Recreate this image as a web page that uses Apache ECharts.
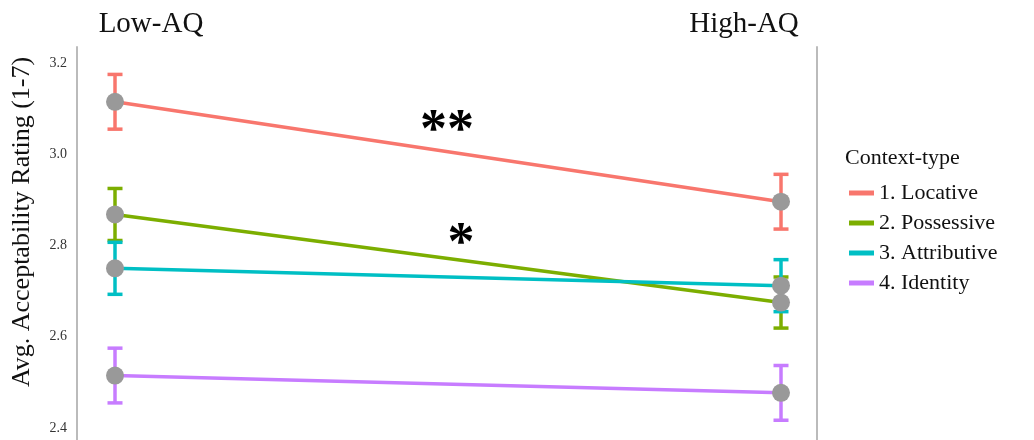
<!DOCTYPE html>
<html><head><meta charset="utf-8">
<script src="https://cdn.jsdelivr.net/npm/echarts@6/dist/echarts.min.js"></script>
<style>html,body{margin:0;padding:0;background:#fff}#c{width:1034px;height:440px}</style>
</head><body><div id="c"></div>
<script>
const groups = ['Low-AQ', 'High-AQ'];
const contextTypes = ['1. Locative', '2. Possessive', '3. Attributive', '4. Identity'];
const colors = ['#F8766D', '#7CAE00', '#00BFC4', '#C77CFF'];
const meanLocative = [3.115, 2.896];
const meanPossessive = [2.868, 2.675];
const meanAttributive = [2.750, 2.712];
const meanIdentity = [2.515, 2.477];
const seLocative = [0.060, 0.060];
const sePossessive = [0.057, 0.056];
const seAttributive = [0.057, 0.057];
const seIdentity = [0.060, 0.060];
const yTicks = [2.4, 2.6, 2.8, 3.0, 3.2];

const means = [meanLocative, meanPossessive, meanAttributive, meanIdentity];
const ses = [seLocative, sePossessive, seAttributive, seIdentity];
const FONT = '"Liberation Serif", "DejaVu Serif", serif';

const series = [];
// error bars
means.forEach((m, i) => {
  series.push({
    type: 'custom', name: 'err' + i, z: 2,
    data: m.map((v, j) => [j + 1, v - ses[i][j], v + ses[i][j]]),
    renderItem: function (params, api) {
      const x = api.value(0);
      const lo = api.coord([x, api.value(1)]);
      const hi = api.coord([x, api.value(2)]);
      const hw = 7.5;
      const st = { stroke: colors[i], lineWidth: 3.5 };
      return { type: 'group', children: [
        { type: 'line', shape: { x1: lo[0], y1: lo[1], x2: hi[0], y2: hi[1] }, style: st },
        { type: 'line', shape: { x1: lo[0] - hw, y1: lo[1], x2: lo[0] + hw, y2: lo[1] }, style: st },
        { type: 'line', shape: { x1: hi[0] - hw, y1: hi[1], x2: hi[0] + hw, y2: hi[1] }, style: st }
      ]};
    }
  });
});
// lines
means.forEach((m, i) => {
  series.push({
    type: 'line', name: contextTypes[i], z: 3,
    data: m.map((v, j) => [j + 1, v]),
    symbol: 'none', color: colors[i],
    lineStyle: { width: 3.5, color: colors[i] },
    emphasis: { disabled: true }, animation: false
  });
});
// points
means.forEach((m, i) => {
  series.push({
    type: 'scatter', name: 'pt' + i, z: 4,
    data: m.map((v, j) => [j + 1, v]),
    symbol: 'circle', symbolSize: 18,
    itemStyle: { color: '#999999', opacity: 1 }
  });
});

const chart = echarts.init(document.getElementById('c'));
chart.setOption({
  animation: false,
  backgroundColor: '#ffffff',
  grid: { left: 77, right: 217, top: 47, bottom: 0 },
  xAxis: { type: 'value', min: 0.94294, max: 2.05405, show: false },
  yAxis: [{
    type: 'value', min: 2.3737, max: 3.2351,
    axisLine: { show: true, lineStyle: { color: '#bbbbbb', width: 2 } },
    axisTick: { show: false },
    splitLine: { show: false },
    axisLabel: {
      customValues: yTicks, margin: 10,
      formatter: v => v.toFixed(1),
      fontFamily: FONT, fontSize: 14, color: '#333'
    }
  }, {
    type: 'value', min: 2.3737, max: 3.2351, position: 'right',
    axisLine: { show: true, lineStyle: { color: '#bbbbbb', width: 2 } },
    axisTick: { show: false }, splitLine: { show: false }, axisLabel: { show: false }
  }],
  legend: {
    data: contextTypes, orient: 'vertical', left: 844, top: 177,
    icon: 'rect', itemWidth: 25, itemHeight: 5, itemGap: 8,
    textStyle: { fontFamily: FONT, fontSize: 22, lineHeight: 22, color: '#111' },
    selectedMode: false
  },
  graphic: [
    { type: 'text', x: 151, y: 24, style: { text: groups[0], font: '29px ' + FONT, fill: '#111', align: 'center', verticalAlign: 'middle' } },
    { type: 'text', x: 744, y: 24, style: { text: groups[1], font: '29px ' + FONT, fill: '#111', align: 'center', verticalAlign: 'middle' } },
    { type: 'text', x: 22, y: 222, rotation: Math.PI / 2, style: { text: 'Avg. Acceptability Rating (1-7)', font: '26px ' + FONT, fill: '#111', align: 'center', verticalAlign: 'middle' } },
    { type: 'text', x: 845, y: 158, style: { text: 'Context-type', font: '22px ' + FONT, fill: '#111', align: 'left', verticalAlign: 'middle' } },
    { type: 'text', x: 447, y: 132, style: { text: '**', font: 'bold 54px ' + FONT, fill: '#000', align: 'center', verticalAlign: 'middle' } },
    { type: 'text', x: 461, y: 245, style: { text: '*', font: 'bold 54px ' + FONT, fill: '#000', align: 'center', verticalAlign: 'middle' } }
  ],
  series: series
});
</script></body></html>
